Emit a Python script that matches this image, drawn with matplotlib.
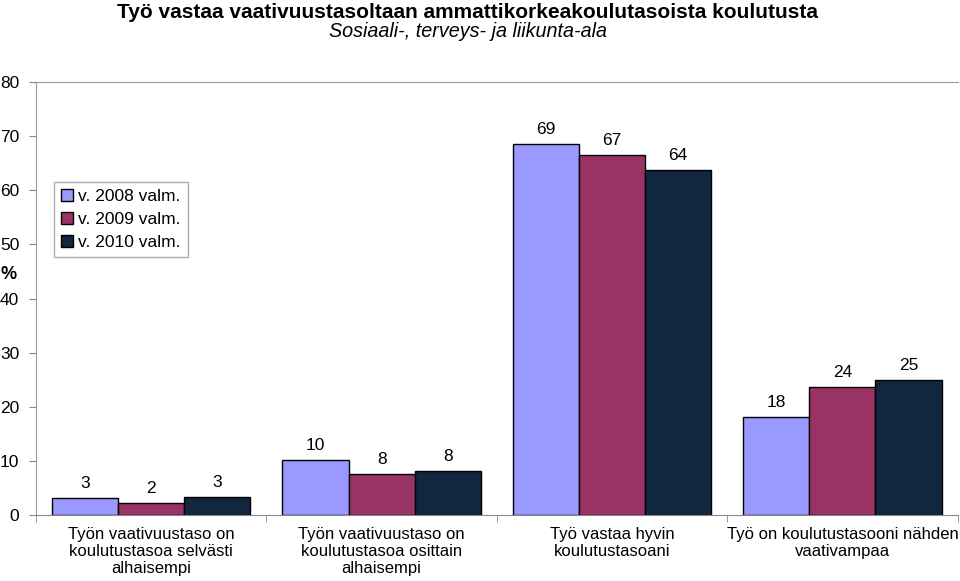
import numpy as np
import matplotlib.pyplot as plt

plt.rcParams['font.family'] = ['Liberation Sans', 'DejaVu Sans']

categories = ["Työn vaativuustaso on\nkoulutustasoa selvästi\nalhaisempi",
              "Työn vaativuustaso on\nkoulutustasoa osittain\nalhaisempi",
              "Työ vastaa hyvin\nkoulutustasoani",
              "Työ on koulutustasooni nähden\nvaativampaa"]
series = ["v. 2008 valm.", "v. 2009 valm.", "v. 2010 valm."]
v2008 = [3.1, 10.2, 68.6, 18.1]
v2009 = [2.2, 7.6, 66.6, 23.7]
v2010 = [3.3, 8.1, 63.8, 25.0]
colors = ["#9999FF", "#993366", "#13263F"]

fig = plt.figure(figsize=(9.6, 5.81), dpi=100)
ax = fig.add_axes([0.0375, 0.1136, 0.96, 0.745])

x = np.arange(len(categories))
w = 0.287
for i, (vals, lab, col) in enumerate(zip([v2008, v2009, v2010], series, colors)):
    pos = x + (i - 1) * w
    ax.bar(pos, vals, width=w, color=col, edgecolor="black", linewidth=1, label=lab)
    for p, v in zip(pos, vals):
        ax.text(p, v + 1.3, f"{v:.0f}", ha="center", va="bottom", fontsize=12.5)

ax.set_xlim(-0.5, 3.5)
ax.set_ylim(0, 80)
ax.set_yticks(range(0, 81, 10))
ax.set_xticks(np.arange(-0.5, 4, 1), minor=True)
ax.set_xticks(x)
ax.set_xticklabels(categories, fontsize=12, linespacing=1.15)
ax.tick_params(axis="x", which="major", length=0, pad=9)
ax.tick_params(axis="x", which="minor", length=5, color="#888888")
ax.tick_params(axis="y", labelsize=12.5, length=5, color="#888888", pad=7)
for s in ["top", "left", "right"]:
    ax.spines[s].set_color("#999999")
ax.spines["right"].set_visible(False)
ax.spines["bottom"].set_color("#888888")

fig.text(0.009, 0.528, "%", fontsize=13, fontweight="bold", ha="center", va="center")

leg = ax.legend(loc="upper left", bbox_to_anchor=(0.01, 0.79), fontsize=12.5,
                frameon=True, fancybox=False, edgecolor="#999999",
                handlelength=0.7, handleheight=0.7, handletextpad=0.3,
                labelspacing=0.45, borderpad=0.4)
leg.get_frame().set_linewidth(1)

fig.text(0.487, 0.979, "Työ vastaa vaativuustasoltaan ammattikorkeakoulutasoista koulutusta",
         ha="center", va="center", fontsize=15, fontweight="bold")
fig.text(0.487, 0.945, "Sosiaali-, terveys- ja liikunta-ala", ha="center", va="center",
         fontsize=14.2, fontstyle="italic")

fig.savefig("out.png", dpi=100)
